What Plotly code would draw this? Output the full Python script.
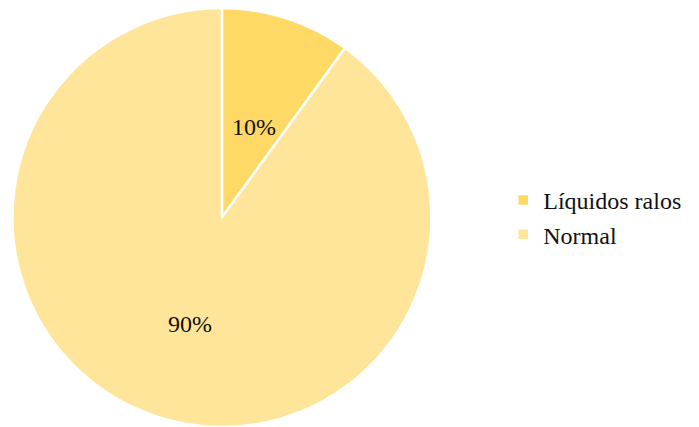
import math
import plotly.graph_objects as go

labels = ["Líquidos ralos", "Normal"]
values = [10, 90]
colors = ["#FFD966", "#FFE599"]

W, H = 699, 427
top_margin = 8
dom_x = [0, 0.635]
font = dict(family="Liberation Serif", size=24, color="#111")

fig = go.Figure(go.Pie(
    labels=labels, values=values, sort=False, direction="clockwise", rotation=0,
    marker=dict(colors=colors, line=dict(color="white", width=2.5)),
    textinfo="none",
    domain=dict(x=dom_x, y=[0, 1]),
    hoverinfo="label+percent",
))

# percentage labels placed at about half radius along each slice's mid angle
plot_h = H - top_margin
R = plot_h / 2 - 1.5
cx = (dom_x[0] + dom_x[1]) / 2
cy = 0.5
total = sum(values)
cum = 0
for v in values:
    mid = (cum + v / 2) / total * 2 * math.pi
    cum += v
    px = cx + 0.5 * R * math.sin(mid) / W
    py = cy + 0.5 * R * math.cos(mid) / plot_h - 8 / plot_h
    fig.add_annotation(x=px, y=py, xref="paper", yref="paper",
                       xanchor="center", yanchor="middle",
                       text=f"{round(v / total * 100)}%", showarrow=False,
                       font=font)

fig.update_layout(
    width=W, height=H, margin=dict(l=0, r=0, t=top_margin, b=0),
    paper_bgcolor="white", plot_bgcolor="white",
    font=font,
    legend=dict(x=0.72, y=0.5, xanchor="left", yanchor="middle",
                font=font, itemwidth=30),
)
fig.write_html("out.html")
